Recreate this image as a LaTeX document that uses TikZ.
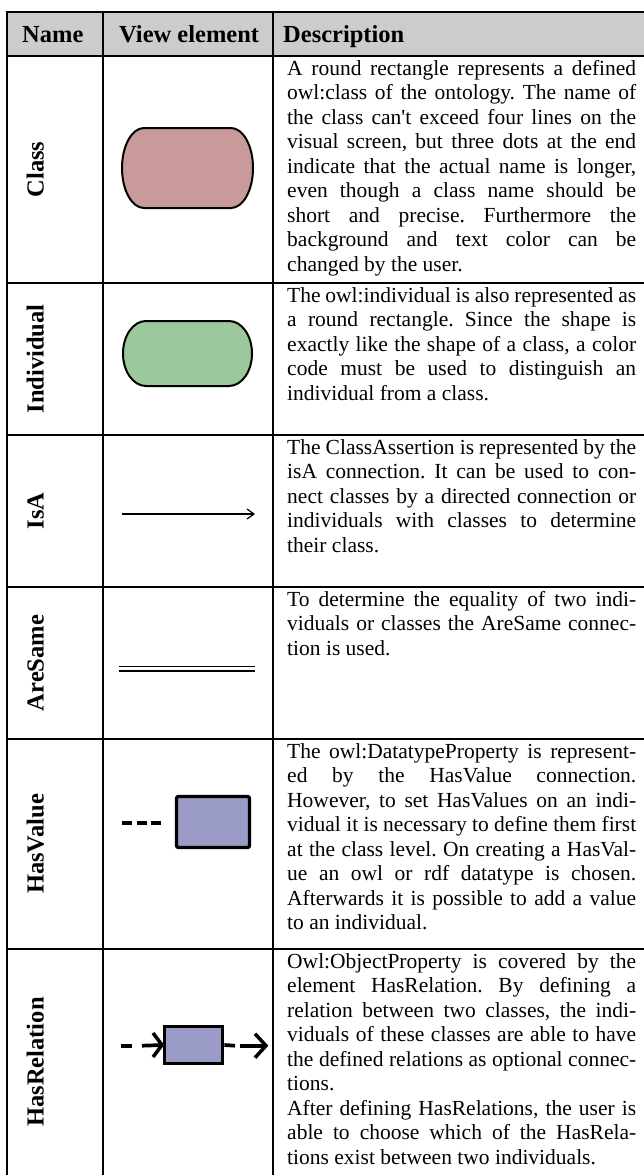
\documentclass[tikz,border=0pt]{standalone}
\usepackage{fontspec}
\setmainfont{Liberation Serif}
\usetikzlibrary{arrows.meta}
\definecolor{hdrgray}{HTML}{CCCCCC}
\definecolor{classfill}{HTML}{C89A9A}
\definecolor{indfill}{HTML}{9BC99B}
\definecolor{propfill}{HTML}{9B9BC8}
\frenchspacing
\tikzset{
  txt/.style={anchor=base west, inner sep=0pt, font=\fontsize{21.5}{24.5}\selectfont\frenchspacing},
  hdr/.style={anchor=base west, inner sep=0pt, font=\fontsize{24.5}{26}\selectfont\bfseries},
  rowlabel/.style={anchor=base, rotate=90, inner sep=0pt, font=\fontsize{24.5}{26}\selectfont\bfseries},
  grid/.style={line width=2pt, line cap=rect},
  shapeline/.style={line width=2pt},
}
\newcommand\jline[3]{\node[txt] (#1) at (287,#2) {\makebox[349pt][s]{#3}};}
\newcommand\lline[3]{\node[txt] (#1) at (287,#2) {#3};}
\begin{document}
\begin{tikzpicture}[x=1pt,y=-1pt]
\useasboundingbox (0,0) rectangle (644,1175);
% header
\fill[hdrgray] (7,12) rectangle (644,56);
\draw[grid] (7,12) -- (644,12);
\foreach \yy in {56,283,435,587,739,949} \draw[grid] (7,\yy) -- (644,\yy);
\foreach \xx in {7,103,273} \draw[grid] (\xx,12) -- (\xx,1176);
\node[hdr] (hname) at (22,42.5) {Name};
\node[hdr] (hview) at (119,42.5) {View element};
\node[hdr] (hdesc) at (283,42.5) {Description};
% row labels
\node[rowlabel] (lclass) at (43.5,169.5) {Class};
\node[rowlabel] (lind) at (43.5,359) {Individual};
\node[rowlabel] (lisa) at (43.5,511) {IsA};
\node[rowlabel] (lsame) at (43.5,663) {AreSame};
\node[rowlabel] (lval) at (43.5,844) {HasValue};
\node[rowlabel] (lrel) at (43.5,1062) {HasRelation};
% class shape
\draw[shapeline, fill=classfill] (144,128) -- (231,128)
  arc[start angle=-90, end angle=90, x radius=22, y radius=40] -- (144,208)
  arc[start angle=90, end angle=270, x radius=22, y radius=40] -- cycle;
% individual shape
\draw[shapeline, fill=indfill] (146,321) -- (229,321)
  arc[start angle=-90, end angle=90, x radius=23, y radius=32.5] -- (146,386)
  arc[start angle=90, end angle=270, x radius=23, y radius=32.5] -- cycle;
% IsA
\coordinate (isa1) at (122,514);
\coordinate (isa2) at (255,514);
\draw[line width=1.2pt, -{Straight Barb[length=7pt,width=10pt]}] (isa1) -- (isa2);
% AreSame
\coordinate (as1) at (119,666.7);
\coordinate (as2) at (255,666.7);
\coordinate (as3) at (119,671);
\coordinate (as4) at (255,671);
\draw[line width=1.2pt] (as1) -- (as2);
\draw[line width=1.2pt] (as3) -- (as4);
% HasValue
\node[draw, line width=3.3pt, fill=propfill, rounded corners=2pt, minimum width=73pt, minimum height=51pt, inner sep=0pt] (valrect) at (213,822) {};
\coordinate (hv1) at (122,822.7);
\coordinate (hv2) at (161,822.7);
\draw[line width=4.3pt, dash pattern=on 10pt off 4.5pt] (hv1) -- (hv2);
% HasRelation
\node[draw, line width=3.3pt, fill=propfill, minimum width=58pt, minimum height=37pt, inner sep=0pt] (relrect) at (193.7,1045) {};
\coordinate (r1) at (121,1045.7);
\coordinate (r2) at (132,1045.7);
\coordinate (r3) at (142,1045.7);
\coordinate (r5) at (235,1045.7);
\coordinate (r6) at (240,1045.7);
\coordinate (r7) at (266,1045.7);
\draw[line width=3.7pt] (r1) -- (r2);
\draw[line width=3.7pt] (r3) -- (relrect.west);
\draw[line width=3.5pt] ([xshift=-10pt,yshift=-12pt]relrect.west) -- ([xshift=-1pt]relrect.west) -- ([xshift=-10pt,yshift=12pt]relrect.west);
\draw[line width=3.7pt] (relrect.east) -- (r5);
\draw[line width=3.7pt] (r6) -- ([xshift=-2pt]r7);
\draw[line width=3.5pt] ([xshift=-11pt,yshift=-12pt]r7) -- (r7) -- ([xshift=-11pt,yshift=12pt]r7);
% descriptions
\jline{c1}{75}{A round rectangle represents a defined}
\jline{c2}{99.5}{owl:class of the ontology. The name of}
\jline{c3}{124}{the class can\textquotesingle t exceed four lines on the}
\jline{c4}{148.5}{visual screen, but three dots at the end}
\jline{c5}{173}{indicate that the actual name is longer,}
\jline{c6}{197.5}{even though a class name should be}
\jline{c7}{222}{short and precise. Furthermore the}
\jline{c8}{246.5}{background and text color can be}
\lline{c9}{271}{changed by the user.}
\jline{i1}{302}{The owl:individual is also represented as}
\jline{i2}{326.5}{a round rectangle. Since the shape is}
\jline{i3}{351}{exactly like the shape of a class, a color}
\jline{i4}{375.5}{code must be used to distinguish an}
\lline{i5}{400}{individual from a class.}
\jline{a1}{454}{The ClassAssertion is represented by the}
\jline{a2}{478.5}{isA connection. It can be used to con-}
\jline{a3}{503}{nect classes by a directed connection or}
\jline{a4}{527.5}{individuals with classes to determine}
\lline{a5}{552}{their class.}
\jline{s1}{606}{To determine the equality of two indi-}
\jline{s2}{630.5}{viduals or classes the AreSame connec-}
\lline{s3}{655}{tion is used.}
\jline{v1}{758}{The owl:DatatypeProperty is represent-}
\jline{v2}{782.5}{ed by the HasValue connection.}
\jline{v3}{807}{However, to set HasValues on an indi-}
\jline{v4}{831.5}{vidual it is necessary to define them first}
\jline{v5}{856}{at the class level. On creating a HasVal-}
\jline{v6}{880.5}{ue an owl or rdf datatype is chosen.}
\jline{v7}{905}{Afterwards it is possible to add a value}
\lline{v8}{929.5}{to an individual.}
\jline{r1t}{968}{Owl:ObjectProperty is covered by the}
\jline{r2t}{992.5}{element HasRelation. By defining a}
\jline{r3t}{1017}{relation between two classes, the indi-}
\jline{r4t}{1041.5}{viduals of these classes are able to have}
\jline{r5t}{1066}{the defined relations as optional connec-}
\lline{r6t}{1090.5}{tions.}
\jline{r7t}{1115}{After defining HasRelations, the user is}
\jline{r8t}{1139.5}{able to choose which of the HasRela-}
\lline{r9t}{1164}{tions exist between two individuals.}
\end{tikzpicture}
\end{document}
